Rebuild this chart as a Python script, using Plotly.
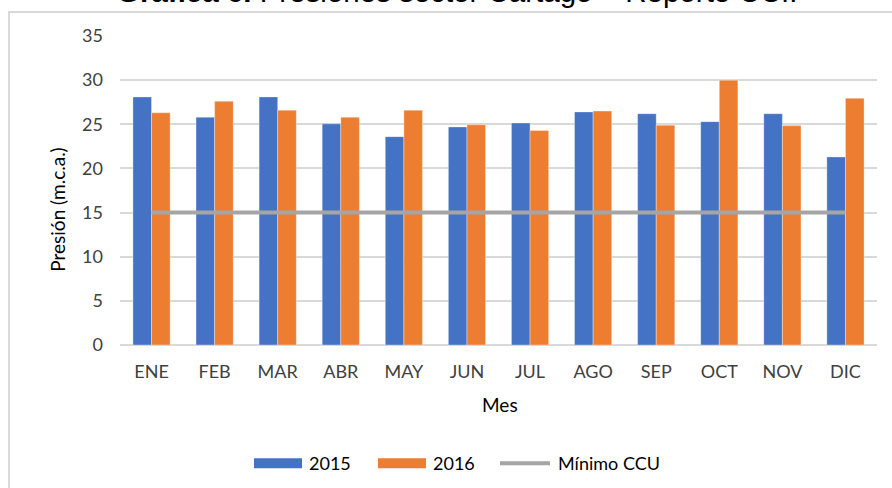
import plotly.graph_objects as go

meses = ["ENE", "FEB", "MAR", "ABR", "MAY", "JUN", "JUL", "AGO", "SEP", "OCT", "NOV", "DIC"]
v2015 = [28.1, 25.8, 28.1, 25.05, 23.6, 24.7, 25.15, 26.4, 26.2, 25.3, 26.2, 21.3]
v2016 = [26.3, 27.6, 26.6, 25.8, 26.6, 24.95, 24.3, 26.5, 24.9, 30.0, 24.85, 27.95]
minimo = [15] * 12
y_ticks = [0, 5, 10, 15, 20, 25, 30, 35]

W, H = 892, 488
L, R, T, B = 120, 15, 36, 142.5
pw, ph = W - L - R, H - T - B

def px(x):
    return (x - L) / pw

def py(y):
    return (H - B - y) / ph

C15, C16, CMIN = "#4472C4", "#ED7D31", "#A5A5A5"
TXT = "#404040"

fig = go.Figure()
fig.add_trace(go.Bar(x=meses, y=v2015, name="2015", marker=dict(color=C15, line=dict(color="rgba(255,255,255,0.35)", width=1))))
fig.add_trace(go.Bar(x=meses, y=v2016, name="2016", marker=dict(color=C16, line=dict(color="rgba(255,255,255,0.35)", width=1))))
fig.add_trace(go.Scatter(x=meses, y=minimo, name="Mínimo CCU", mode="lines", line=dict(color=CMIN, width=4)))

# legend drawn manually (key shapes + labels)
leg_y = 464
legend_items = [("2015", C15, 254, 302, 307), ("2016", C16, 378, 426, 431), ("Mínimo CCU", CMIN, 500, 550, 556)]
shapes = [dict(type="rect", xref="paper", yref="paper", x0=px(9), x1=px(905), y0=py(520), y1=py(12),
               line=dict(color="#D9D9D9", width=2), fillcolor="rgba(0,0,0,0)", layer="below")]
annotations = [
    dict(text="<b>Gráfica 6.</b> Presiones sector Cartago – Reporte CCI.", xref="paper", yref="paper",
         x=px(457), y=py(-9), xanchor="center", yanchor="middle", showarrow=False,
         font=dict(family="Liberation Sans, Arial, sans-serif", size=29.5, color="black")),
    dict(text="Presión (m.c.a.)", xref="paper", yref="paper", x=px(58), y=py(210),
         xanchor="center", yanchor="middle", textangle=-90, showarrow=False,
         font=dict(size=19, color="#000000")),
    dict(text="Mes", xref="paper", yref="paper", x=px(500), y=py(405),
         xanchor="center", yanchor="middle", showarrow=False,
         font=dict(size=19, color="#000000")),
]
for name, col, x0, x1, xt in legend_items:
    if name == "Mínimo CCU":
        shapes.append(dict(type="line", xref="paper", yref="paper", x0=px(x0), x1=px(x1), y0=py(leg_y), y1=py(leg_y),
                           line=dict(color=col, width=4)))
    else:
        shapes.append(dict(type="rect", xref="paper", yref="paper", x0=px(x0), x1=px(x1), y0=py(leg_y + 5), y1=py(leg_y - 5),
                           line=dict(width=0), fillcolor=col))
    annotations.append(dict(text=name, xref="paper", yref="paper", x=px(xt), y=py(leg_y), xanchor="left", yanchor="middle",
                            showarrow=False, font=dict(size=18, color="#000000")))

fig.update_layout(
    width=W, height=H,
    margin=dict(l=L, r=R, t=T, b=B, autoexpand=False),
    paper_bgcolor="white", plot_bgcolor="white",
    barmode="group", bargap=0.41, bargroupgap=0,
    font=dict(family="Lato, Carlito, sans-serif", size=18, color=TXT),
    showlegend=False,
    xaxis=dict(showgrid=False, showline=False, ticks="", tickfont=dict(size=18, color=TXT), ticklabelstandoff=14, automargin=False),
    yaxis=dict(range=[0, 35], tickvals=y_ticks, showgrid=True, gridcolor="#D9D9D9", gridwidth=2,
               zeroline=True, zerolinecolor="#D9D9D9", zerolinewidth=2, showline=False,
               ticks="", tickfont=dict(size=18, color=TXT), ticklabelstandoff=16, automargin=False),
    shapes=shapes,
    annotations=annotations,
)

fig.write_html("out.html", config={"displayModeBar": False},
               post_script="document.body.style.margin='0';document.body.style.overflow='hidden';")
